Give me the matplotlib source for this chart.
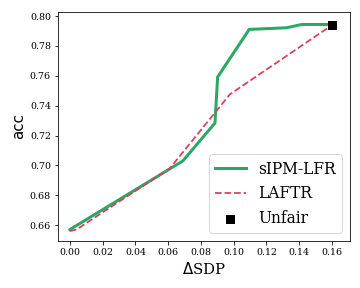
import matplotlib
matplotlib.use('Agg')
from matplotlib import pyplot as plt

# sIPM-LFR trade-off curve
sipm_sdp = [0.000, 0.069, 0.0886, 0.0902, 0.1095, 0.1323, 0.1415, 0.1608]
sipm_acc = [0.657, 0.703, 0.7284, 0.7592, 0.7911, 0.7922, 0.7944, 0.7944]

# LAFTR trade-off curve
laftr_sdp = [0.000, 0.004, 0.061, 0.0977, 0.1606]
laftr_acc = [0.656, 0.657, 0.698, 0.7476, 0.7944]

# unfair baseline
unfair_sdp = [0.160]
unfair_acc = [0.794]

xticks = [0.00, 0.02, 0.04, 0.06, 0.08, 0.10, 0.12, 0.14, 0.16]
yticks = [0.66, 0.68, 0.70, 0.72, 0.74, 0.76, 0.78, 0.80]

fig, ax = plt.subplots(figsize=(5, 4), dpi=72)
ax.plot(sipm_sdp, sipm_acc, color='#2aa865', lw=3, label='sIPM-LFR')
ax.plot(laftr_sdp, laftr_acc, color='#d9415e', lw=1.8, ls='--', label='LAFTR')
ax.scatter(unfair_sdp, unfair_acc, color='black', marker='s', s=50, zorder=5, label='Unfair')

ax.set_xticks(xticks)
ax.set_yticks(yticks)
ax.set_xlim(-0.0073, 0.171)
ax.set_ylim(0.6493, 0.8027)
for lbl in ax.get_xticklabels() + ax.get_yticklabels():
    lbl.set_family('DejaVu Serif')
    lbl.set_fontsize(9.5)
ax.set_xlabel(r'$\Delta$SDP', family='DejaVu Serif', fontsize=15)
ax.set_ylabel('acc', fontsize=15)
ax.legend(loc='lower right', prop={'family': 'DejaVu Serif', 'size': 15.5})

fig.subplots_adjust(left=0.161, right=0.972, top=0.958, bottom=0.163)
fig.savefig('out.png')
